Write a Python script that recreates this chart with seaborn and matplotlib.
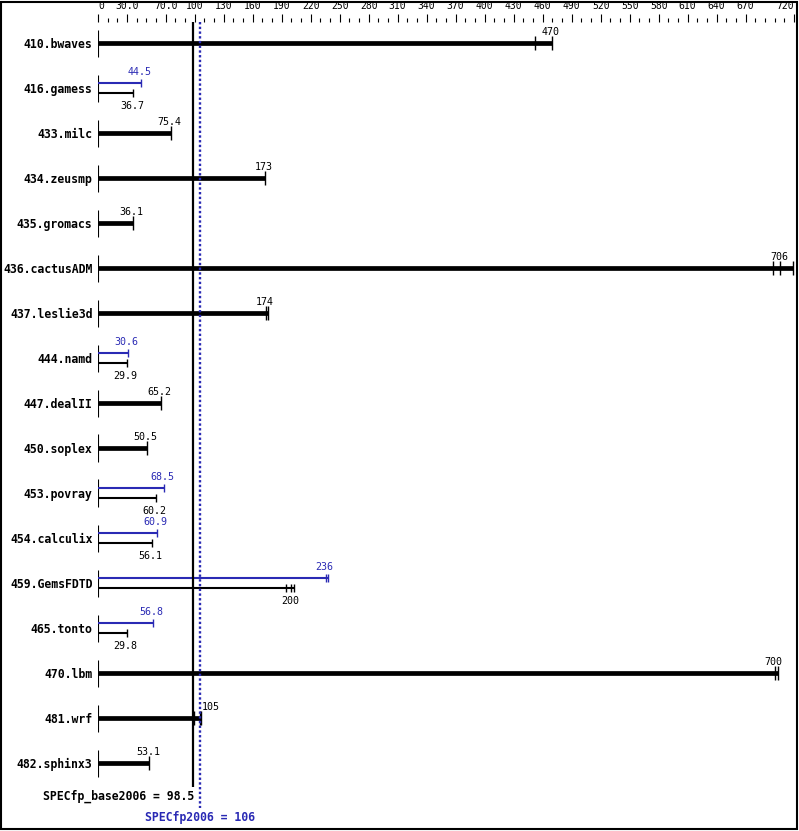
import matplotlib
matplotlib.use('Agg')
import matplotlib.pyplot as plt
import seaborn as sns
import pandas as pd
from matplotlib.patches import Rectangle

# SPEC CPU2006 floating point ratios
benchmarks = ['410.bwaves', '416.gamess', '433.milc', '434.zeusmp', '435.gromacs',
              '436.cactusADM', '437.leslie3d', '444.namd', '447.dealII', '450.soplex',
              '453.povray', '454.calculix', '459.GemsFDTD', '465.tonto', '470.lbm',
              '481.wrf', '482.sphinx3']
base_ratio = [470, 36.7, 75.4, 173, 36.1, 706, 174, 29.9, 65.2, 50.5,
              60.2, 56.1, 200, 29.8, 700, 105, 53.1]
base_runs = [[452, 470], [36.7], [75.4], [173], [36.1], [698, 706, 719], [174, 176],
             [29.9], [65.2], [50.5], [60.2], [56.1], [194, 200, 203], [29.8],
             [700, 703], [99, 105, 106.5], [53.1]]
peak_ratio = [None, 44.5, None, None, None, None, None, 30.6, None, None,
              68.5, 60.9, 236, 56.8, None, None, None]
peak_runs = [[], [44.5], [], [], [], [], [], [30.6], [], [],
             [68.5], [60.9], [236, 238], [56.8], [], [], []]
base_overall = 98.5
peak_overall = 106
tick_vals = [0, 30, 70] + list(range(100, 671, 30)) + [720]
tick_text = ['0', '30.0', '70.0'] + [str(v) for v in range(100, 671, 30)] + ['720']

BLUE = '#2a2ab4'
W, H = 799, 831
NUMFONT = dict(fontfamily='DejaVu Sans Mono', fontsize=7.2)


def fmt(v):
    return '%.0f' % v if v >= 100 else '%.1f' % v


sns.set_theme(style='white')
plt.rcParams['font.family'] = ['DejaVu Sans']
plt.rcParams['text.color'] = 'black'
plt.rcParams['xtick.color'] = 'black'
plt.rcParams['ytick.color'] = 'black'

fig = plt.figure(figsize=(W / 100, H / 100), dpi=100)
top_px, left_px = 22, 98
ax = fig.add_axes([left_px / W, 0, 696 / W, (H - top_px) / H])
row0, step = 43, 45
ax.set_xlim(0, 720)
ax.set_ylim((H - row0) / step, (top_px - row0) / step)
for s in ax.spines.values():
    s.set_visible(False)

# top scale
ax.xaxis.tick_top()
ax.set_xticks(tick_vals)
ax.set_xticklabels(tick_text, fontfamily='DejaVu Sans Mono', fontsize=7.0, color='black')
ax.set_xticks(range(0, 721, 10), minor=True)
ax.tick_params(axis='x', which='major', length=6, width=0.8, color='black', pad=2, top=True, bottom=False)
ax.tick_params(axis='x', which='minor', length=3, width=0.8, color='black', top=True, bottom=False)
for lab in ax.get_xticklabels():
    if lab.get_text() == '720':
        lab.set_horizontalalignment('right')
    elif lab.get_text() == '0':
        lab.set_horizontalalignment('left')

ax.set_yticks(range(len(benchmarks)))
ax.set_yticklabels(benchmarks, fontfamily='DejaVu Sans Mono', fontweight='bold', fontsize=8.3,
                   color='black')
ax.tick_params(axis='y', length=0, pad=4, left=True)
ax.grid(False)

cap_rows = []
for i, name in enumerate(benchmarks):
    ax.vlines(0, i - 0.3, i + 0.3, color='black', lw=0.8)
    if peak_ratio[i] is None:
        ax.hlines(i, 0, max(base_runs[i]), color='black', lw=3.4)
        for r in base_runs[i]:
            cap_rows.append((r, i, 'thick', 'base'))
        if name == '481.wrf':
            ax.text(base_ratio[i] + 2.5, i - 0.25, fmt(base_ratio[i]), ha='left', va='center', **NUMFONT)
        else:
            ax.text(base_ratio[i] - 1.5, i - 0.25, fmt(base_ratio[i]), ha='center', va='center', **NUMFONT)
    else:
        ax.hlines(i - 0.12, 0, max(peak_runs[i]), color=BLUE, lw=1.5)
        ax.hlines(i + 0.12, 0, max(base_runs[i]), color='black', lw=1.5)
        for r in peak_runs[i]:
            cap_rows.append((r, i - 0.12, 'thin', 'peak'))
        for r in base_runs[i]:
            cap_rows.append((r, i + 0.12, 'thin', 'base'))
        ax.text(peak_ratio[i] - 1.5, i - 0.36, fmt(peak_ratio[i]), ha='center', va='center',
                color=BLUE, **NUMFONT)
        ax.text(base_ratio[i] - 1.5, i + 0.39, fmt(base_ratio[i]), ha='center', va='center',
                color='black', **NUMFONT)

caps = pd.DataFrame(cap_rows, columns=['ratio', 'y', 'kind', 'run'])
for kind, size in [('thick', 110), ('thin', 30)]:
    for run, col in [('base', 'black'), ('peak', BLUE)]:
        d = caps[(caps.kind == kind) & (caps.run == run)]
        if len(d):
            sns.scatterplot(data=d, x='ratio', y='y', marker='|', s=size, color=col,
                            linewidth=1.0, ax=ax, legend=False, clip_on=False, zorder=3)
ax.set_xlabel('')
ax.set_ylabel('')

# overall means
ax.vlines(base_overall, (top_px - row0) / step, (787 - row0) / step, color='black', lw=1.6, zorder=4)
ax.vlines(peak_overall, (top_px - row0) / step, (808 - row0) / step, color=BLUE, lw=1.7,
          linestyle=(0, (1, 1)), zorder=4)
ax.text(base_overall + 1.5, (796 - row0) / step, 'SPECfp_base2006 = %.1f' % base_overall, ha='right',
        va='center', fontfamily='DejaVu Sans Mono', fontweight='bold', fontsize=8.3, color='black')
ax.text(peak_overall, (817 - row0) / step, 'SPECfp2006 = %d' % peak_overall, ha='center',
        va='center', fontfamily='DejaVu Sans Mono', fontweight='bold', fontsize=8.3, color=BLUE)

fig.patches.append(Rectangle((0.001, 0.002), 0.997, 0.996, transform=fig.transFigure,
                             fill=False, edgecolor='black', lw=1.5))

fig.savefig('out.png', dpi=100)
